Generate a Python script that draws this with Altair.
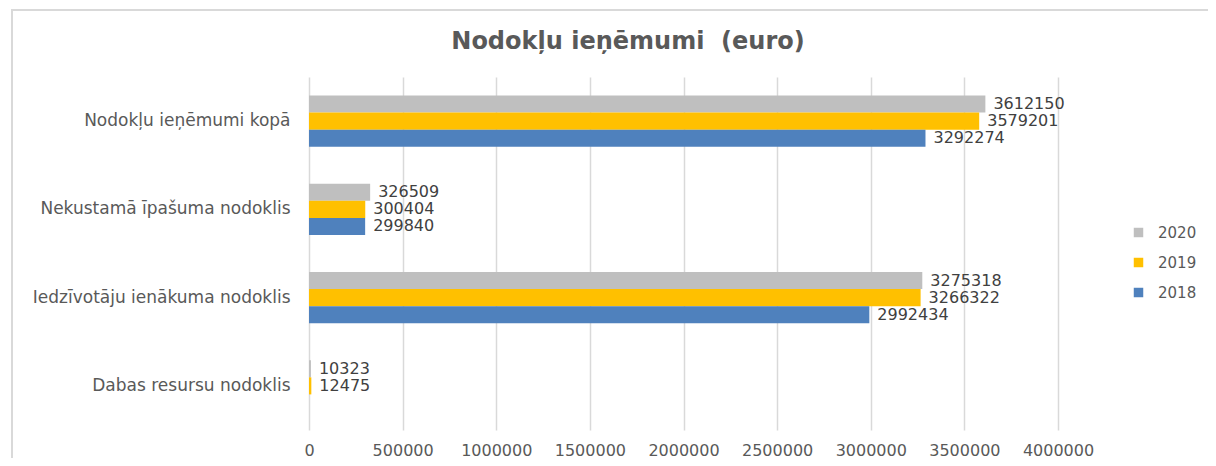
import altair as alt
import pandas as pd

categories = [
    "Nodokļu ieņēmumi kopā",
    "Nekustamā īpašuma nodoklis",
    "Iedzīvotāju ienākuma nodoklis",
    "Dabas resursu nodoklis",
]
years = ["2020", "2019", "2018"]
values_2020 = [3612150, 326509, 3275318, 10323]
values_2019 = [3579201, 300404, 3266322, 12475]
values_2018 = [3292274, 299840, 2992434, None]
x_ticks = [0, 500000, 1000000, 1500000, 2000000, 2500000, 3000000, 3500000, 4000000]
colors = ["#BFBFBF", "#FFC000", "#4F81BD"]
title_text = ["Nodokļu ieņēmumi \u00a0(euro)"]

rows = []
for year, vals in zip(years, [values_2020, values_2019, values_2018]):
    for cat, v in zip(categories, vals):
        if v is not None:
            rows.append({"category": cat, "year": year, "value": v})
df = pd.DataFrame(rows)

FONT = "DejaVu Sans"

base = alt.Chart(df).encode(
    y=alt.Y(
        "category:N",
        sort=categories,
        scale=alt.Scale(paddingInner=0.42, paddingOuter=0.21),
        axis=alt.Axis(
            title=None, labelFontSize=17, labelColor="#595959", labelPadding=19,
            ticks=False, domain=False, labelFont=FONT, labelLimit=400,
        ),
    ),
    yOffset=alt.YOffset(
        "year:N", sort=years,
        scale=alt.Scale(domain=years, paddingInner=0, paddingOuter=0),
    ),
    x=alt.X(
        "value:Q",
        scale=alt.Scale(domain=[0, 4000000], nice=False),
        axis=alt.Axis(
            values=x_ticks, format="d", grid=True, gridColor="#d9d9d9", gridWidth=1.5,
            domain=False, ticks=False, labelFontSize=16, labelPadding=12,
            labelColor="#595959", labelFont=FONT, title=None, labelOverlap=False,
            labelFlush=False,
        ),
    ),
)

bars = base.mark_bar().encode(
    color=alt.Color(
        "year:N",
        scale=alt.Scale(domain=years, range=colors),
        legend=alt.Legend(
            title=None, orient="none", legendX=822, legendY=148,
            symbolType="square", symbolSize=90, symbolStrokeWidth=0,
            labelFontSize=15, labelColor="#595959", labelFont=FONT,
            rowPadding=14, labelOffset=12,
        ),
    )
)

labels = base.mark_text(
    align="left", baseline="middle", dx=8, fontSize=16, color="#404040", font=FONT
).encode(text=alt.Text("value:Q", format="d"))

frame = alt.Chart(pd.DataFrame({"f": [0]})).mark_rect(
    fill="transparent", stroke="#d9d9d9", strokeWidth=2
).encode(
    x=alt.value(-297), x2=alt.value(1200), y=alt.value(-67), y2=alt.value(600)
)

title = alt.Chart(pd.DataFrame({"t": title_text})).mark_text(
    fontSize=24, font=FONT, fontWeight="bold", color="#595959",
    align="center", baseline="middle",
).encode(x=alt.value(319), y=alt.value(-35), text="t:N")

chart = alt.layer(frame, bars, labels, title).properties(
    width=749,
    height=353,
    autosize=alt.AutoSizeParams(type="none"),
    padding={"left": 301, "top": 69, "right": 150, "bottom": 28},
    background="white",
).configure_view(stroke=None)

chart.save("out.html", embed_options={"renderer": "svg", "actions": False})
